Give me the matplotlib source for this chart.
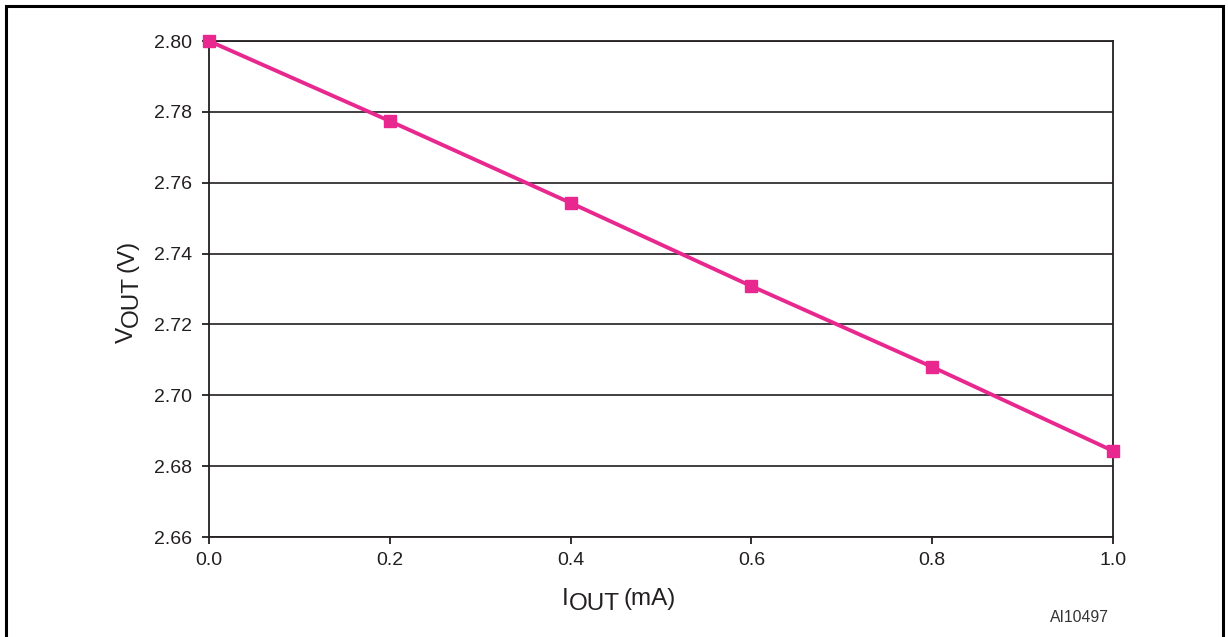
import matplotlib
matplotlib.use("Agg")
import matplotlib.pyplot as plt
from matplotlib.patches import Rectangle

plt.rcParams['font.family'] = ['Liberation Sans', 'DejaVu Sans']

iout_ma = [0.0, 0.2, 0.4, 0.6, 0.8, 1.0]
vout_v = [2.800, 2.7774, 2.7543, 2.7308, 2.7080, 2.6843]
x_ticks = [0.0, 0.2, 0.4, 0.6, 0.8, 1.0]
y_ticks = [2.66, 2.68, 2.70, 2.72, 2.74, 2.76, 2.78, 2.80]

W, H = 1228, 637
fig = plt.figure(figsize=(W / 100, H / 100), dpi=100)
ax = fig.add_axes([209 / W, 1 - 537 / H, (1113 - 209) / W, (537 - 41) / H])

dark = '#231f20'
pink = '#e8288f'

ax.plot(iout_ma, vout_v, color=pink, lw=2.8, marker='s', ms=8.5,
        clip_on=False, zorder=5)
ax.set_xlim(0, 1.0)
ax.set_ylim(2.66, 2.80)
ax.set_xticks(x_ticks)
ax.set_xticklabels([f"{v:.1f}" for v in x_ticks])
ax.set_yticks(y_ticks)
ax.set_yticklabels([f"{v:.2f}" for v in y_ticks])
ax.yaxis.grid(True, color=dark, lw=1.2)
ax.set_axisbelow(True)
for s in ax.spines.values():
    s.set_color(dark)
    s.set_linewidth(1.3)
ax.tick_params(axis='both', direction='out', length=5, width=1.3,
               color=dark, labelcolor=dark, labelsize=14, pad=6)
ax.tick_params(axis='y', pad=7)

# outer frame
fig.patches.append(Rectangle((6 / W, -0.05), (1223 - 6) / W, 1.05 - 6 / H,
                             transform=fig.transFigure, fill=False,
                             edgecolor='black', lw=2.2))

# axis labels with subscripts drawn piecewise
fig.canvas.draw()
r = fig.canvas.get_renderer()

def piece_h(x, y, parts, size):
    # parts: list of (text, dy_px, gap_px)
    for txt, dy, gap in parts:
        x += gap
        t = fig.text(x / W, 1 - (y + dy) / H, txt, fontsize=size, color=dark,
                     ha='left', va='baseline')
        bb = t.get_window_extent(r)
        x += bb.width

def piece_v(x, y, parts, size):
    for txt, dx, gap in parts:
        y -= gap
        t = fig.text((x + dx) / W, 1 - y / H, txt, fontsize=size, color=dark,
                     ha='left', va='baseline', rotation=90, rotation_mode='anchor')
        bb = t.get_window_extent(r)
        y -= bb.height

piece_h(562, 605, [("I", 0, 0), ("OUT", 5, 0), ("(mA)", 0, 4)], 17.5)
piece_v(133, 343, [("V", 0, 0), ("OUT", 5, 0), ("(V)", 0, 4)], 17.5)

fig.text(1050 / W, 1 - 622 / H, "AI10497", fontsize=11.3, color='#333333',
         ha='left', va='baseline')

fig.savefig("out.png", dpi=100)
